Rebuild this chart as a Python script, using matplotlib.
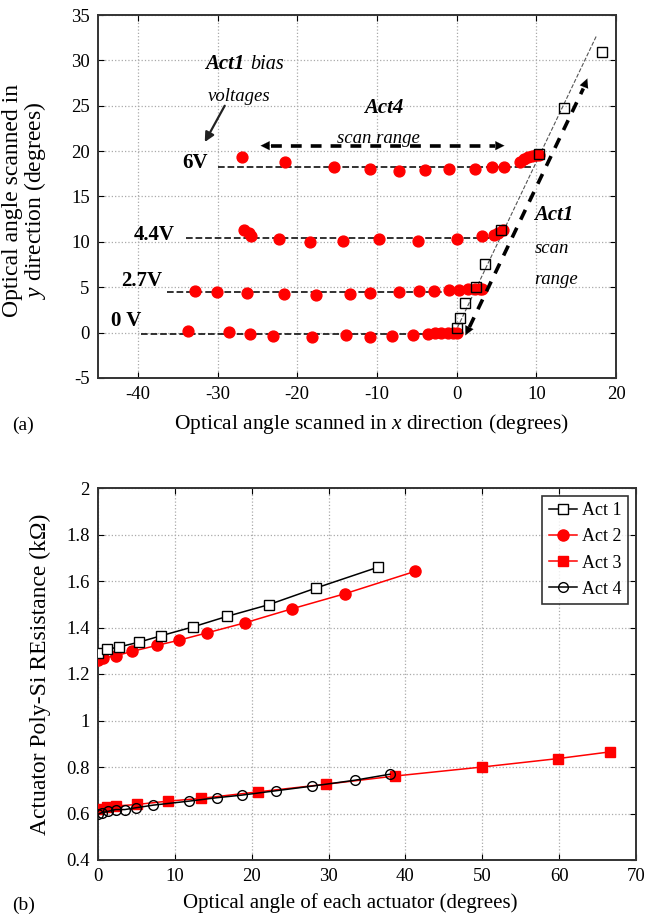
import numpy as np
import matplotlib
matplotlib.use('Agg')
import matplotlib.pyplot as plt
from matplotlib.ticker import FormatStrFormatter, MultipleLocator

# ---- (a) 2D scan data ----
x_0v = [-33.7, -28.5, -25.9, -23.1, -18.1, -13.9, -10.9, -8.1, -5.5, -3.6, -2.7, -1.9, -1.1, -0.5, 0.0]
y_0v = [0.14, 0.06, -0.12, -0.4, -0.5, -0.27, -0.45, -0.4, -0.27, -0.16, -0.05, -0.05, 0.0, 0.0, 0.0]
x_27v = [-32.8, -30.1, -26.3, -21.7, -17.6, -13.4, -10.9, -7.2, -4.7, -2.8, -1.0, 0.3, 1.4, 2.3, 2.9, 3.2]
y_27v = [4.62, 4.5, 4.36, 4.28, 4.14, 4.28, 4.36, 4.47, 4.55, 4.62, 4.7, 4.74, 4.78, 4.8, 4.8, 4.8]
x_44v = [-26.7, -26.1, -25.8, -22.3, -18.4, -14.25, -9.7, -4.9, 0.1, 3.2, 4.7, 5.2, 5.8]
y_44v = [11.26, 10.96, 10.67, 10.34, 9.94, 10.1, 10.3, 10.08, 10.34, 10.67, 10.78, 11.03, 11.26]
x_6v = [-26.9, -21.5, -15.4, -10.9, -7.2, -4.0, -0.95, 2.3, 4.5, 6.0, 7.9, 8.5, 8.9, 9.5, 10.0, 10.4]
y_6v = [19.4, 18.85, 18.23, 18.0, 17.8, 17.94, 18.05, 18.08, 18.2, 18.23, 18.78, 19.1, 19.3, 19.5, 19.6, 19.55]
x_act1_scan = [0.0, 0.4, 1.1, 2.4, 3.6, 5.6, 10.4, 13.5, 18.3]
y_act1_scan = [0.5, 1.6, 3.3, 5.0, 7.6, 11.3, 19.7, 24.8, 30.9]

bias_labels = ['0 V', '2.7V', '4.4V', '6V']
bias_level = [-0.12, 4.43, 10.4, 18.23]
bias_start = [-39.6, -36.4, -34.0, -29.9]
bias_end = [0.5, 3.2, 5.0, 9.5]
bias_label_x = [-43.4, -42.1, -40.5, -34.4]
bias_label_y = [1.3, 5.7, 10.8, 18.7]

# ---- (b) resistance data ----
act1_x = [0, 1.16, 2.69, 5.34, 8.26, 12.3, 16.8, 22.2, 28.3, 36.4]
act1_r = [1.29, 1.306, 1.316, 1.337, 1.365, 1.402, 1.448, 1.498, 1.569, 1.659]
act2_x = [0, 0.7, 2.4, 4.4, 7.66, 10.5, 14.2, 19.1, 25.2, 32.1, 41.3]
act2_r = [1.259, 1.269, 1.279, 1.297, 1.323, 1.345, 1.377, 1.420, 1.48, 1.545, 1.642]
act3_x = [0, 1.16, 2.3, 5.1, 9.05, 13.4, 20.8, 29.7, 38.6, 50.0, 59.8, 66.6]
act3_r = [0.619, 0.626, 0.632, 0.639, 0.653, 0.665, 0.693, 0.726, 0.761, 0.80, 0.836, 0.865]
act4_x = [0, 0.46, 1.3, 2.3, 3.5, 5.0, 7.2, 11.8, 15.5, 18.7, 23.2, 27.9, 33.4, 38.0]
act4_r = [0.597, 0.603, 0.609, 0.617, 0.617, 0.625, 0.636, 0.653, 0.668, 0.679, 0.698, 0.718, 0.743, 0.769]

plt.rcParams['font.family'] = ['Liberation Serif', 'DejaVu Serif']
plt.rcParams['mathtext.fontset'] = 'custom'
plt.rcParams['mathtext.rm'] = 'Liberation Serif'
plt.rcParams['mathtext.it'] = 'Liberation Serif:italic'
plt.rcParams['mathtext.bf'] = 'Liberation Serif:bold'
plt.rcParams['axes.unicode_minus'] = False

W, H = 660, 918
fig = plt.figure(figsize=(W / 100, H / 100), dpi=100)


def style_axes(ax):
    ax.grid(True, linestyle=':', color='#aaaaaa', linewidth=0.9)
    ax.set_axisbelow(True)
    ax.tick_params(direction='in', top=True, right=True, labelsize=13.5, length=4, pad=6)
    for s in ax.spines.values():
        s.set_linewidth(1.4)
        s.set_color('#333333')


def arrow_head(ax, tip, tail, size=16):
    ax.annotate('', xy=tip, xytext=tail,
                arrowprops=dict(arrowstyle='-|>', color='k', lw=0.1, mutation_scale=size,
                                shrinkA=0, shrinkB=0))


# ---- top panel ----
ax1 = fig.add_axes([98 / W, 1 - 378 / H, 518 / W, 363 / H])
style_axes(ax1)
ax1.set_xlim(-45, 20)
ax1.set_ylim(-5, 35)
ax1.xaxis.set_major_locator(MultipleLocator(10))
ax1.yaxis.set_major_locator(MultipleLocator(5))

for xs, xe, yl in zip(bias_start, bias_end, bias_level):
    ax1.plot([xs, xe], [yl, yl], '--', color='#222222', lw=1.3, zorder=2)
for lab, lx, ly in zip(bias_labels, bias_label_x, bias_label_y):
    ax1.text(lx, ly, lab, fontsize=15, fontweight='bold', ha='left', va='center')

for xs, ys in [(x_0v, y_0v), (x_27v, y_27v), (x_44v, y_44v), (x_6v, y_6v)]:
    ax1.plot(xs, ys, 'o', color='red', ms=7.8, mec='red', zorder=4)

ax1.plot([-0.2, 17.6], [0.0, 32.8], '--', color='#555555', lw=0.8, zorder=3)
ax1.plot(x_act1_scan, y_act1_scan, 's', mfc='none', mec='k', ms=7, mew=1.0, zorder=5)

# Act1 scan range arrow
ax1.plot([1.6, 15.9], [0.6, 26.9], '--', color='k', lw=2.6, dashes=(3, 2.5), zorder=5)
arrow_head(ax1, (1.1, -0.3), (1.6, 0.6))
arrow_head(ax1, (16.4, 28.0), (15.9, 26.9))

# Act4 scan range arrow
ax1.plot([-23.3, 4.8], [20.6, 20.6], '--', color='k', lw=2.6, dashes=(3, 2.5), zorder=5)
arrow_head(ax1, (-24.6, 20.6), (-23.3, 20.6))
arrow_head(ax1, (6.0, 20.6), (4.8, 20.6))

# bias voltage arrow
ax1.annotate('', xy=(-31.6, 21.0), xytext=(-29.1, 25.0),
             arrowprops=dict(arrowstyle='-|>', color='#222222', lw=1.6, mutation_scale=14,
                             shrinkA=0, shrinkB=0))

ax1.text(-26.6, 29.6, 'Act1', fontsize=15, fontweight='bold', style='italic', ha='right', va='center')
ax1.text(-25.9, 29.6, 'bias', fontsize=14.5, style='italic', ha='left', va='center')
ax1.text(-27.3, 26.0, 'voltages', fontsize=13.5, style='italic', ha='center', va='center')
ax1.text(-9.15, 24.8, 'Act4', fontsize=15, fontweight='bold', style='italic', ha='center', va='center')
ax1.text(-9.75, 21.4, 'scan range', fontsize=13.5, style='italic', ha='center', va='center')
ax1.text(9.7, 13.0, 'Act1', fontsize=15, fontweight='bold', style='italic', ha='left', va='center')
ax1.text(9.8, 9.3, 'scan', fontsize=13.5, style='italic', ha='left', va='center')
ax1.text(9.8, 5.9, 'range', fontsize=13.5, style='italic', ha='left', va='center')

ax1.set_xlabel('Optical angle scanned in $x$ direction (degrees)', fontsize=15.5)
ax1.xaxis.set_label_coords(0.529, -0.095)
ax1.set_ylabel('Optical angle scanned in\n$y$ direction (degrees)', fontsize=17,
               linespacing=0.95)
ax1.yaxis.set_label_coords(-0.096, 0.49)
fig.text(12 / W, 1 - 425 / H, '(a)', fontsize=14, va='center', ha='left')

# ---- bottom panel ----
ax2 = fig.add_axes([98 / W, 1 - 860 / H, 538 / W, 372 / H])
style_axes(ax2)
ax2.set_xlim(0, 70)
ax2.set_ylim(0.4, 2.0)
ax2.xaxis.set_major_locator(MultipleLocator(10))
ax2.yaxis.set_major_locator(MultipleLocator(0.2))
ax2.yaxis.set_major_formatter(FormatStrFormatter('%g'))

ax2.plot(act1_x, act1_r, '-s', color='k', mfc='white', mec='k', ms=7, mew=1.0, lw=1.1,
         label='Act 1', zorder=4)
ax2.plot(act2_x, act2_r, '-o', color='red', ms=8, lw=1.1, label='Act 2', zorder=3)
ax2.plot(act3_x, act3_r, '-s', color='red', ms=7, lw=1.1, label='Act 3', zorder=3)
ax2.plot(act4_x, act4_r, '-o', color='k', mfc='none', mec='k', ms=7, mew=1.0, lw=1.1,
         label='Act 4', zorder=4)

leg = ax2.legend(loc='upper right', fontsize=13, frameon=True, fancybox=False,
                 edgecolor='k', handlelength=1.55, borderaxespad=0.45, labelspacing=0.5,
                 handletextpad=0.3, borderpad=0.35)
leg.get_frame().set_linewidth(1.2)

ax2.set_xlabel('Optical angle of each actuator (degrees)', fontsize=15)
ax2.xaxis.set_label_coords(0.468, -0.09)
ax2.set_ylabel('Actuator Poly-Si REsistance (k\u03a9)', fontsize=17)
ax2.yaxis.set_label_coords(-0.088, 0.5)
fig.text(12 / W, 1 - 905 / H, '(b)', fontsize=14, va='center', ha='left')

fig.savefig('out.png', dpi=100)
